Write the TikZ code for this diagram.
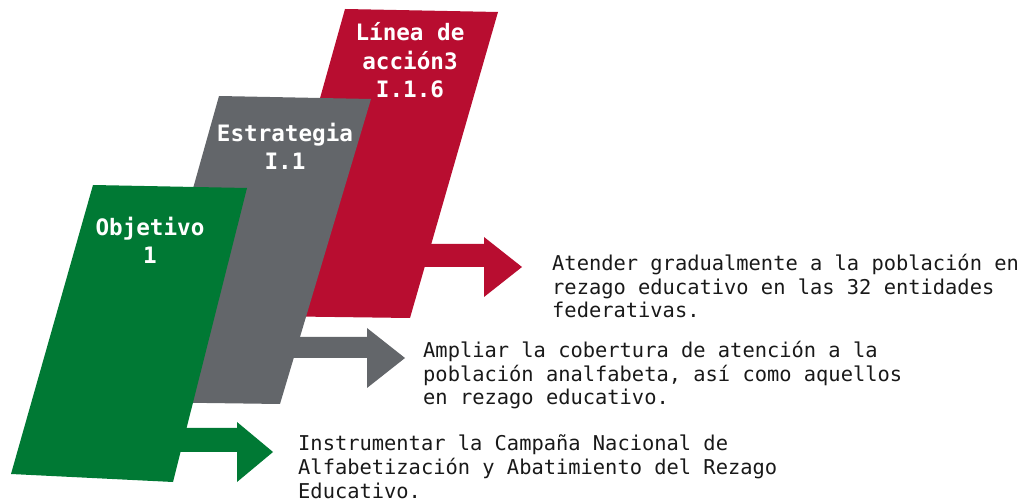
\documentclass[tikz,border=0pt]{standalone}
\usepackage{fontspec}
\setmonofont{DejaVu Sans Mono}
\usepackage{tikz}
\usetikzlibrary{positioning}
\definecolor{linred}{RGB}{184,13,48}
\definecolor{estgray}{RGB}{99,102,106}
\definecolor{objgreen}{RGB}{0,121,52}
\tikzstyle{title} = [text=white, align=center, anchor=base, inner sep=0pt, font=\ttfamily\bfseries\fontsize{22.6}{28.5}\selectfont]
\tikzstyle{desc} = [text=black!90, align=left, anchor=base west, inner sep=0pt, font=\ttfamily\fontsize{20.4}{23.6}\selectfont]

\begin{document}
\begin{tikzpicture}[x=1pt, y=-1pt]
    \useasboundingbox (0,0) rectangle (1023,502);

    % linea de accion (back)
    \fill[linred] (345,9) -- (498,12) -- (410,318) -- (259,316) -- cycle;
    \fill[linred] (400,244) -- (484,244) -- (484,237) -- (522,267) -- (484,297) -- (484,267) -- (400,267) -- cycle;
    % estrategia
    \fill[estgray] (219,96) -- (371,99) -- (280,404) -- (133,402) -- cycle;
    \fill[estgray] (270,337) -- (367,337) -- (367,328) -- (405,358) -- (367,388) -- (367,358) -- (270,358) -- cycle;
    % objetivo (front)
    \fill[objgreen] (93,185) -- (247,188) -- (173,482) -- (11,474) -- cycle;
    \fill[objgreen] (170,428) -- (237,428) -- (237,422) -- (273,452) -- (237,482) -- (237,452) -- (170,452) -- cycle;

    % base = last line
    \node (linea) [title] at (410,98) {Línea de\\acción3\\I.1.6};
    \node (estrategia) [title] at (285,170) {Estrategia\\I.1};
    \node (objetivo) [title] at (150,264) {Objetivo\\1};

    \node (txtlinea) [desc] at (552,318) {Atender gradualmente a la población en\\rezago educativo en las 32 entidades\\federativas.};
    \node (txtestrategia) [desc] at (423,405) {Ampliar la cobertura de atención a la\\población analfabeta, así como aquellos\\en rezago educativo.};
    \node (txtobjetivo) [desc] at (298,498) {Instrumentar la Campaña Nacional de\\Alfabetización y Abatimiento del Rezago\\Educativo.};

\end{tikzpicture}
\end{document}
